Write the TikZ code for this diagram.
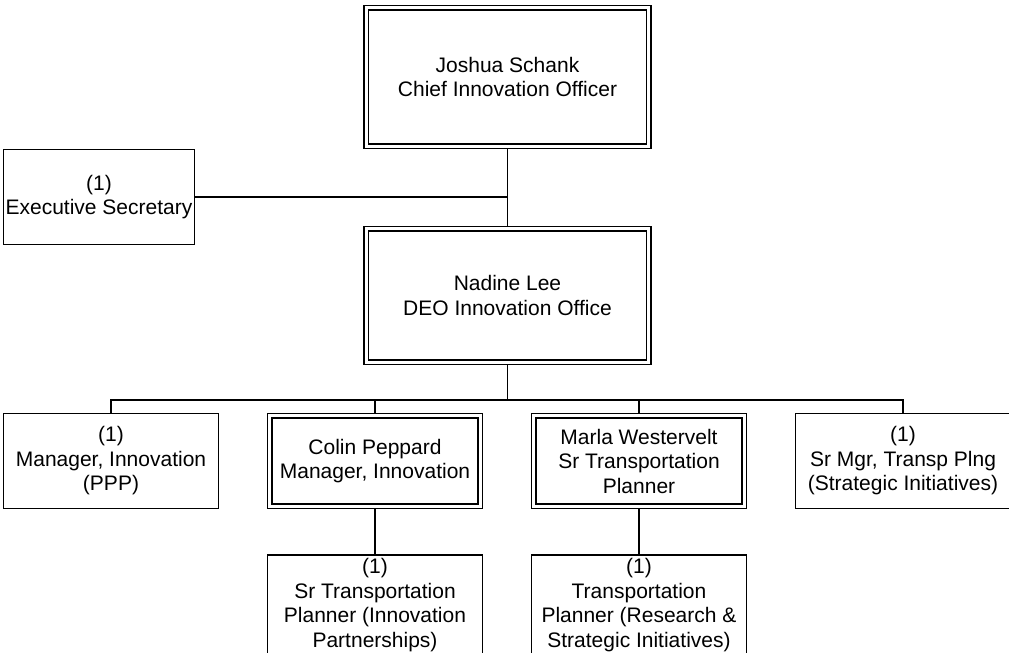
\documentclass[tikz,border=0pt]{standalone}
\usepackage{fontspec}
\setmainfont{Liberation Sans}
\usetikzlibrary{positioning}

\begin{document}
\begin{tikzpicture}[x=1pt,y=-1pt,line width=1.8pt,
            box/.style={draw,rectangle,line width=1.8pt,inner sep=0pt,align=center,
                        font=\fontsize{21}{24.5}\selectfont},
            unit/.style={box,minimum width=215pt,minimum height=95pt,node distance=264pt},
            head/.style={box,line width=1.6pt,double,double distance=3.1pt,outer sep=2.35pt},
            chief/.style={head,minimum width=282.8pt,minimum height=138.2pt},
            lead/.style={head,minimum width=210.3pt,minimum height=90.3pt,node distance=264pt}
          ]
          \useasboundingbox (0,0) rectangle (1009,653);
          \clip (0,0) rectangle (1009,653);

          %top
          \node[chief] (ceo) at (507.5,77) {Joshua Schank\\Chief Innovation Officer};
          \node[chief,minimum height=133.2pt] (deo) at (507.5,295.5) {Nadine Lee\\DEO Innovation Office};
          \node[unit,minimum width=191pt] (sec) at (99,197) {(1)\\Executive Secretary};

          %managers
          \node[unit] (mgr) at (111,461) {(1)\\Manager, Innovation\\(PPP)};
          \node[lead,right of = mgr] (colin) {Colin Peppard\\Manager, Innovation};
          \node[lead,right of = colin] (marla) {Marla Westervelt\\Sr Transportation\\Planner};
          \node[unit,right of = marla] (srmgr) {(1)\\Sr Mgr, Transp Plng\\(Strategic Initiatives)};

          %planners
          \node[unit,minimum height=100pt,node distance=144pt,below of = colin] (srtp) {(1)\\Sr Transportation\\Planner (Innovation\\Partnerships)};
          \node[unit,minimum height=100pt,node distance=144pt,below of = marla] (tp) {(1)\\Transportation\\Planner (Research \&\\Strategic Initiatives)};

          %lines
          \coordinate (bus) at (507.5,400);
          \draw (ceo.south) -- (deo.north);
          \draw (sec.east) -- (sec.east -| ceo.south);
          \draw (deo.south) -- (bus);
          \draw (mgr.north) |- (bus) -| (srmgr.north);
          \foreach \n in {colin,marla}
            \draw (\n.north) -- (\n.north |- bus);
          \draw (colin.south) -- (srtp.north);
          \draw (marla.south) -- (tp.north);

      \end{tikzpicture}
\end{document}
